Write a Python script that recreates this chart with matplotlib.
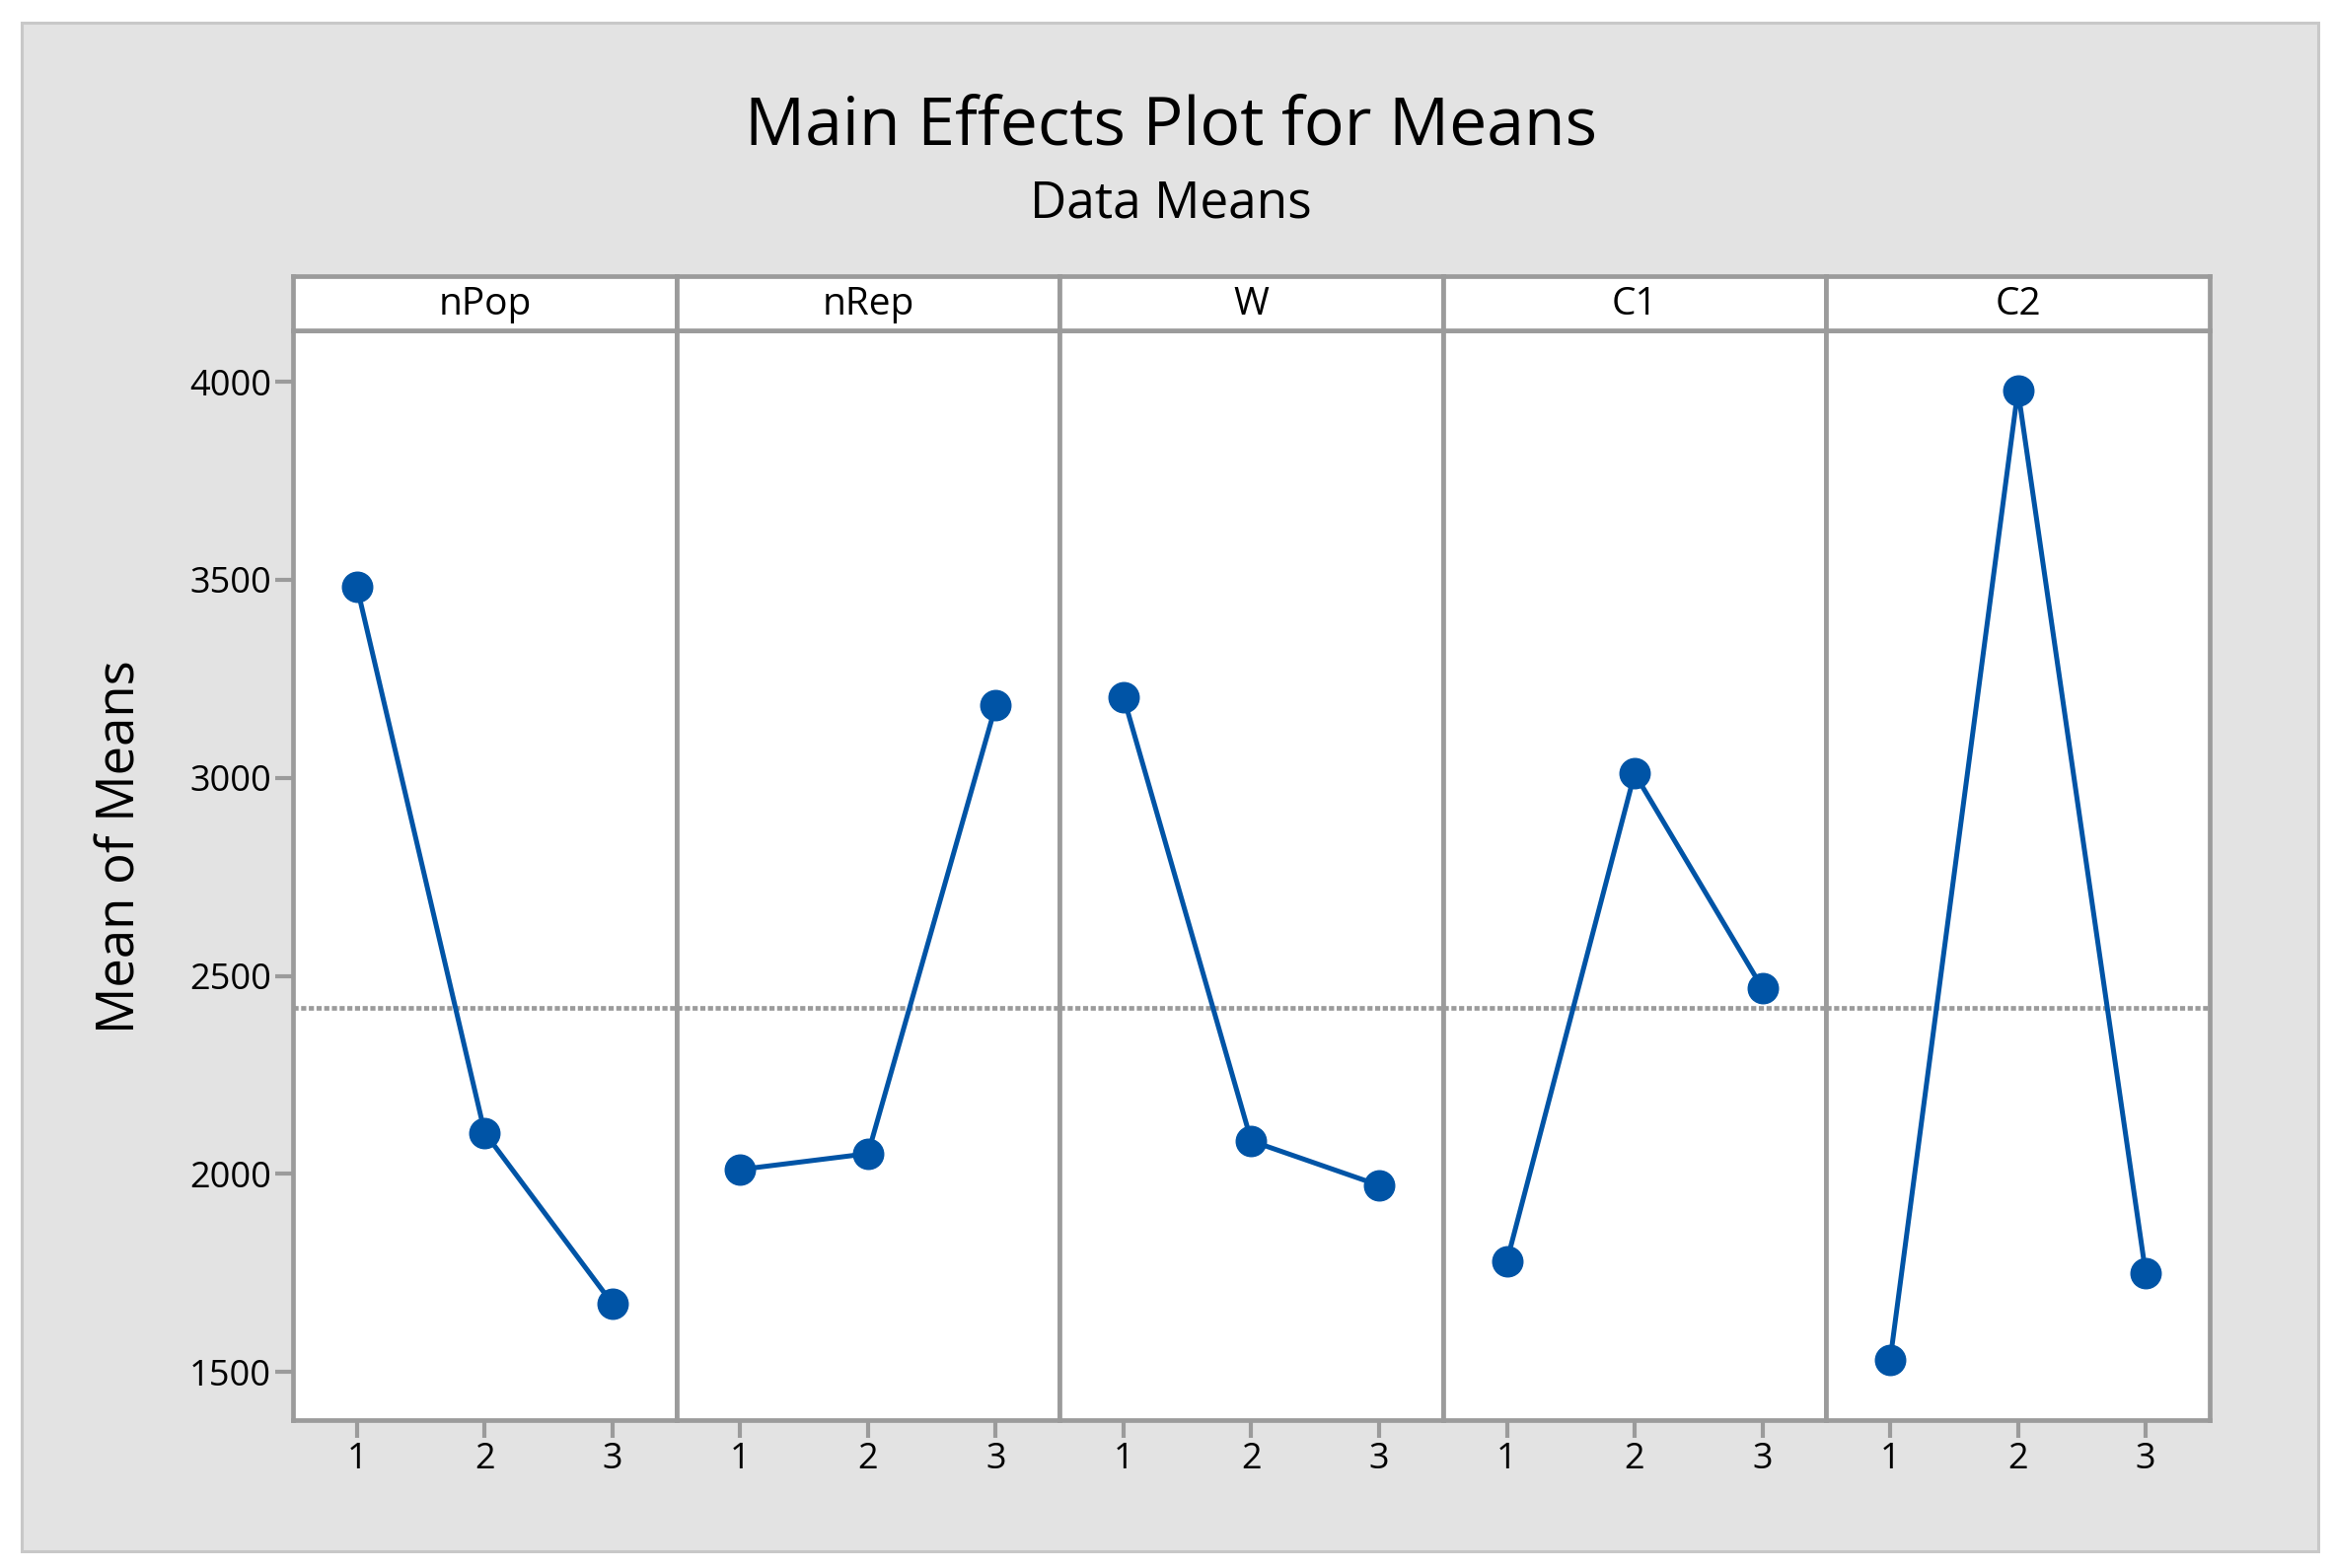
import numpy as np
import matplotlib
matplotlib.use('Agg')
import matplotlib.pyplot as plt
from matplotlib.patches import Rectangle

# factor names and level means
factors = ['nPop', 'nRep', 'W', 'C1', 'C2']
levels = [1, 2, 3]
npop_means = [3483, 2104, 1672]
nrep_means = [2011, 2051, 3183]
w_means = [3204, 2083, 1971]
c1_means = [1779, 3011, 2469]
c2_means = [1530, 3979, 1749]
all_means = [npop_means, nrep_means, w_means, c1_means, c2_means]
grand_mean = np.mean(all_means)
yticks = [1500, 2000, 2500, 3000, 3500, 4000]

plt.rcParams['font.family'] = ['Open Sans', 'DejaVu Sans']

BLUE = '#0054a6'
GRAY = '#9b9b9b'

fig = plt.figure(figsize=(23.65, 15.9), dpi=100)
fig.patch.set_facecolor('white')

# outer gray frame
fig.patches.append(Rectangle((0.0093, 0.0107), 0.9844, 0.9748, transform=fig.transFigure,
                             facecolor='#e3e3e3', edgecolor='#c8c8c8', linewidth=2.2, zorder=-10))

left, right = 0.1256, 0.9471
bottom, top = 0.0943, 0.7893
strip_top = 0.8239
w = (right - left) / len(factors)

for i, (name, vals) in enumerate(zip(factors, all_means)):
    ax = fig.add_axes([left + i * w, bottom, w, top - bottom])
    ax.set_facecolor('white')
    ax.axhline(grand_mean, color=GRAY, lw=3.4, dashes=(1.1, 0.55), zorder=1)
    ax.plot(levels, vals, color=BLUE, lw=3.6, marker='o', markersize=22, zorder=3)
    ax.set_xlim(0.5, 3.5)
    ax.set_ylim(1378, 4130)
    ax.set_xticks(levels)
    ax.set_xticklabels([str(l) for l in levels])
    for s in ax.spines.values():
        s.set_color(GRAY)
        s.set_linewidth(3.4)
    ax.tick_params(axis='both', direction='out', length=13, width=3, color=GRAY,
                   labelsize=26, labelcolor='black', pad=3)
    if i == 0:
        ax.set_yticks(yticks)
        ax.set_yticklabels([str(t) for t in yticks])
    else:
        ax.set_yticks([])

    # strip header
    sax = fig.add_axes([left + i * w, top, w, strip_top - top])
    sax.set_facecolor('white')
    sax.set_xticks([])
    sax.set_yticks([])
    for s in sax.spines.values():
        s.set_color(GRAY)
        s.set_linewidth(3.4)
    sax.text(0.5, 0.47, name, ha='center', va='center', fontsize=28, transform=sax.transAxes)

fig.text(0.502, 0.919, 'Main Effects Plot for Means', ha='center', va='center', fontsize=49)
fig.text(0.502, 0.870, 'Data Means', ha='center', va='center', fontsize=37)
fig.text(0.052, 0.46, 'Mean of Means', ha='center', va='center', rotation=90, fontsize=38)

fig.savefig('out.png', dpi=100)
plt.close()
